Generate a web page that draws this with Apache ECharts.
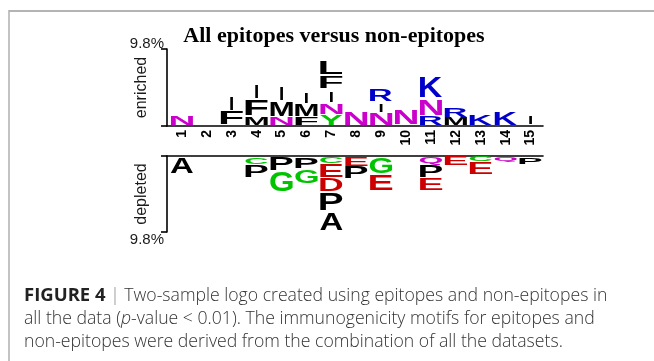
<!DOCTYPE html>
<html>
<head>
<meta charset="utf-8">
<script src="https://cdn.jsdelivr.net/npm/echarts@6/dist/echarts.min.js"></script>
<style>
html, body { margin: 0; padding: 0; background: #ffffff; }
#chart { width: 654px; height: 361px; }
</style>
</head>
<body>
<div id="chart"></div>
<script>
// ---------------- data ----------------
const positions = [1, 2, 3, 4, 5, 6, 7, 8, 9, 10, 11, 12, 13, 14, 15];
const positionLabels = ['1', '2', '3', '4', '5', '6', '7', '8', '9', '10', '11', '12', '13', '14', '15'];

// enriched residues per position, listed from the axis upward
const enrichedLetters = [
  ['N'], [], ['F', 'I'], ['M', 'F', 'I'], ['N', 'M', 'I'], ['F', 'M', 'I'],
  ['Y', 'N', 'I', 'F', 'L'], ['N'], ['N', 'I', 'R'], ['N'], ['R', 'N', 'K'],
  ['M', 'R'], ['K'], ['K'], ['I']
];
// heights in percent
const enrichedHeights = [
  [1.19], [], [1.74, 2.21], [1.12, 2.19, 2.21], [1.12, 1.91, 2.19], [1.08, 1.55, 1.74],
  [1.34, 1.51, 1.85, 1.70, 1.80], [1.82], [1.55, 1.44, 1.68], [2.04], [1.19, 2.23, 2.86],
  [1.02, 1.23], [1.50], [1.75], [1.40]
];

// depleted residues per position, listed from the axis downward
const depletedLetters = [
  ['A'], [], [], ['C', 'P'], ['P', 'G'], ['P', 'G'],
  ['C', 'E', 'D', 'P', 'A'], ['E', 'P'], ['G', 'E'], [], ['Q', 'P', 'E'],
  ['E'], ['C', 'E'], ['Q'], ['P']
];
const depletedHeights = [
  [2.19], [], [], [0.99, 1.72], [1.85, 2.75], [1.53, 1.96],
  [0.92, 1.76, 1.85, 2.47, 2.49], [1.31, 1.61], [2.28, 2.15], [], [1.10, 1.61, 1.72],
  [1.20], [0.67, 1.61], [0.77], [0.99]
];

const scaleMax = 9.8;
const scaleLabel = '9.8%';
const titleText = 'All epitopes versus non-epitopes';
const upperName = 'enriched';
const lowerName = 'depleted';
const captionLine1 = 'Two-sample logo created using epitopes and non-epitopes in';
const captionLine2a = 'all the data (';
const captionLine2b = '-value < 0.01). The immunogenicity motifs for epitopes and';
const captionLine3 = 'non-epitopes were derived from the combination of all the datasets.';

// ---------------- styling ----------------
const residueColor = {
  N: '#cc00cc', Q: '#cc00cc',
  K: '#0000cc', R: '#0000cc', H: '#0000cc',
  D: '#cc0000', E: '#cc0000',
  C: '#00c400', G: '#00c400', S: '#00c400', T: '#00c400', Y: '#00c400'
};
function colorOf(L) { return residueColor[L] || '#000000'; }

const GLYPH_SIZE = 100;
const GLYPH_FAMILY = '"Liberation Sans", Arial, Helvetica, sans-serif';
const mctx = document.createElement('canvas').getContext('2d');
mctx.font = 'bold ' + GLYPH_SIZE + 'px ' + GLYPH_FAMILY;
mctx.textAlign = 'center';
mctx.textBaseline = 'middle';
const inkCache = {};
function ink(L) {
  if (!inkCache[L]) {
    const t = mctx.measureText(L);
    inkCache[L] = { l: -t.actualBoundingBoxLeft, r: t.actualBoundingBoxRight, t: -t.actualBoundingBoxAscent, b: t.actualBoundingBoxDescent };
  }
  return inkCache[L];
}

function buildMarks(letters, heights) {
  const marks = [];
  positions.forEach(function (p, i) {
    let acc = 0;
    letters[i].forEach(function (L, j) {
      const h = heights[i][j];
      marks.push({ pos: p, y0: acc, y1: acc + h, letter: L });
      acc += h;
    });
  });
  return marks;
}
const enrichedMarks = buildMarks(enrichedLetters, enrichedHeights);
const depletedMarks = buildMarks(depletedLetters, depletedHeights);

function letterRenderer(marks, depleted) {
  return function (params, api) {
    const m = marks[api.value(3)];
    const a = api.coord([m.pos - 0.45, m.y0]);
    const b = api.coord([m.pos + 0.45, m.y1]);
    const left = Math.min(a[0], b[0]), right = Math.max(a[0], b[0]);
    const top = Math.min(a[1], b[1]), bottom = Math.max(a[1], b[1]);
    const h = bottom - top, w = right - left;
    let inkTop, inkBot, inkW;
    if (m.letter === 'I') {
      inkTop = top + 0.14 * h; inkBot = bottom - 0.14 * h; inkW = 3;
    } else {
      const gap = 0.1 * h;
      if (depleted) { inkTop = top + gap; inkBot = bottom; }
      else { inkTop = top; inkBot = bottom - gap; }
      inkW = w;
    }
    const g = ink(m.letter);
    const sx = inkW / (g.r - g.l);
    const sy = (inkBot - inkTop) / (g.b - g.t);
    const cx = (left + right) / 2, cy = (inkTop + inkBot) / 2;
    return {
      type: 'text',
      x: cx - sx * (g.l + g.r) / 2,
      y: cy - sy * (g.t + g.b) / 2,
      scaleX: sx,
      scaleY: sy,
      silent: true,
      style: {
        text: m.letter,
        x: 0, y: 0,
        fill: colorOf(m.letter),
        fontFamily: GLYPH_FAMILY,
        fontWeight: 'bold',
        fontSize: GLYPH_SIZE,
        align: 'center', verticalAlign: 'middle',
        textAlign: 'center', textVerticalAlign: 'middle'
      }
    };
  };
}

const chart = echarts.init(document.getElementById('chart'), null, { renderer: 'canvas' });

const axisLineStyle = { color: '#000', width: 1.6 };
const sansFamily = '"Liberation Sans", Arial, Helvetica, sans-serif';
const capFamily = '"Open Sans", "Liberation Sans", Arial, sans-serif';
const capColor = '#333333';
const capSize = 17.65;
const capBoldSize = 18.5;

const option = {
  animation: false,
  backgroundColor: '#ffffff',
  grid: [
    { left: 167, top: 49, width: 376, height: 77 },
    { left: 167, top: 156, width: 376, height: 76 }
  ],
  xAxis: [
    {
      gridIndex: 0, type: 'value', min: 0.4, max: 15.5, position: 'bottom',
      axisLine: { show: true, lineStyle: axisLineStyle },
      axisTick: { show: false },
      splitLine: { show: false },
      axisLabel: {
        show: true, rotate: 90, margin: 4,
        customValues: positions,
        formatter: function (v) { const i = positions.indexOf(v); return i >= 0 ? positionLabels[i] : ''; },
        color: '#000', fontFamily: sansFamily, fontWeight: 'bold', fontSize: 14
      }
    },
    {
      gridIndex: 1, type: 'value', min: 0.4, max: 15.5, position: 'top',
      axisLine: { show: true, lineStyle: axisLineStyle },
      axisTick: { show: false },
      splitLine: { show: false },
      axisLabel: { show: false }
    }
  ],
  yAxis: [
    {
      gridIndex: 0, type: 'value', min: 0, max: scaleMax, interval: scaleMax,
      axisLine: { show: true, lineStyle: axisLineStyle },
      axisTick: { show: true, length: 6, lineStyle: axisLineStyle },
      splitLine: { show: false },
      axisLabel: {
        margin: 3, color: '#1a1a1a', fontFamily: sansFamily, fontSize: 15,
        verticalAlign: 'bottom', lineHeight: 10,
        formatter: function (v) { return v > 0 ? scaleLabel : ''; }
      },
      name: upperName, nameLocation: 'middle', nameRotate: 90, nameGap: 17, nameMoveOverlap: false,
      nameTextStyle: { color: '#1a1a1a', fontFamily: sansFamily, fontSize: 16 }
    },
    {
      gridIndex: 1, type: 'value', min: 0, max: scaleMax, interval: scaleMax, inverse: true,
      axisLine: { show: true, lineStyle: axisLineStyle },
      axisTick: { show: true, length: 6, lineStyle: axisLineStyle },
      splitLine: { show: false },
      axisLabel: {
        margin: 3, color: '#1a1a1a', fontFamily: sansFamily, fontSize: 15,
        verticalAlign: 'top', lineHeight: 16,
        formatter: function (v) { return v > 0 ? scaleLabel : ''; }
      },
      name: lowerName, nameLocation: 'middle', nameRotate: 90, nameGap: 17, nameMoveOverlap: false,
      nameTextStyle: { color: '#1a1a1a', fontFamily: sansFamily, fontSize: 16 }
    }
  ],
  series: [
    {
      type: 'custom', xAxisIndex: 0, yAxisIndex: 0, clip: false, silent: true,
      renderItem: letterRenderer(enrichedMarks, false),
      data: enrichedMarks.map(function (m, i) { return [m.pos, m.y0, m.y1, i]; })
    },
    {
      type: 'custom', xAxisIndex: 1, yAxisIndex: 1, clip: false, silent: true,
      renderItem: letterRenderer(depletedMarks, true),
      data: depletedMarks.map(function (m, i) { return [m.pos, m.y0, m.y1, i]; })
    }
  ],
  graphic: [
    { type: 'line', silent: true, shape: { x1: 9, y1: 11, x2: 654, y2: 11 }, style: { stroke: '#b4b4b4', lineWidth: 2 } },
    { type: 'line', silent: true, shape: { x1: 9, y1: 10, x2: 9, y2: 361 }, style: { stroke: '#b4b4b4', lineWidth: 1.6 } },
    {
      type: 'text', silent: true, x: 334, y: 36,
      style: {
        text: titleText, fill: '#000',
        fontFamily: '"Liberation Serif", "Times New Roman", serif', fontWeight: 'bold', fontSize: 22,
        align: 'center', verticalAlign: 'middle', textAlign: 'center', textVerticalAlign: 'middle'
      }
    },
    {
      type: 'text', silent: true, x: 24, y: 296,
      style: {
        text: '{b|FIGURE 4} {s||} ' + captionLine1,
        fill: capColor, fontFamily: capFamily, fontSize: capSize, fontWeight: 300,
        align: 'left', verticalAlign: 'middle', textAlign: 'left', textVerticalAlign: 'middle',
        rich: {
          b: { fill: '#222', fontFamily: capFamily, fontSize: capBoldSize, fontWeight: 'bold' },
          s: { fill: '#8a8a8a', fontFamily: capFamily, fontSize: capSize, fontWeight: 300 }
        }
      }
    },
    {
      type: 'text', silent: true, x: 24, y: 318.5,
      style: {
        text: captionLine2a + '{i|p}' + captionLine2b,
        fill: capColor, fontFamily: capFamily, fontSize: capSize, fontWeight: 300,
        align: 'left', verticalAlign: 'middle', textAlign: 'left', textVerticalAlign: 'middle',
        rich: {
          i: { fill: capColor, fontFamily: capFamily, fontSize: capSize, fontWeight: 300, fontStyle: 'italic' }
        }
      }
    },
    {
      type: 'text', silent: true, x: 24, y: 341.6,
      style: {
        text: captionLine3,
        fill: capColor, fontFamily: capFamily, fontSize: capSize, fontWeight: 300,
        align: 'left', verticalAlign: 'middle', textAlign: 'left', textVerticalAlign: 'middle'
      }
    }
  ]
};
chart.setOption(option);
</script>
</body>
</html>
